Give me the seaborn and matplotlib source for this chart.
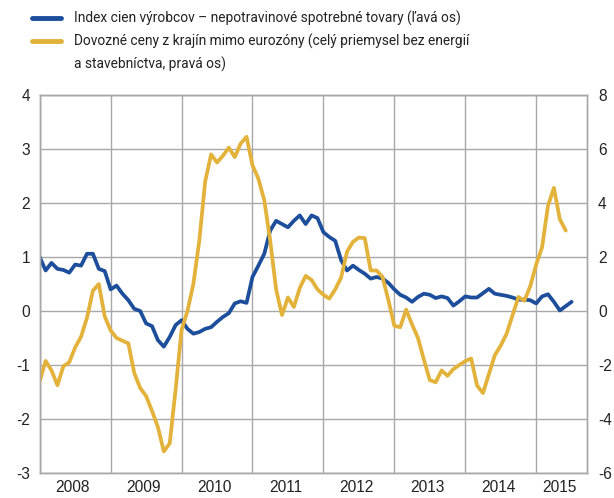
import matplotlib
matplotlib.use("Agg")
import matplotlib.pyplot as plt
from matplotlib.lines import Line2D
import seaborn as sns
import pandas as pd

# monthly data, Jan 2008 onwards
years = ["2008", "2009", "2010", "2011", "2012", "2013", "2014", "2015"]

ppi_nonfood = [
    1.00, 0.75, 0.89, 0.78, 0.76, 0.71, 0.86, 0.84, 1.06, 1.06, 0.78, 0.74,
    0.40, 0.47, 0.32, 0.20, 0.04, 0.00, -0.23, -0.28, -0.54, -0.66, -0.48, -0.26,
    -0.17, -0.33, -0.42, -0.39, -0.33, -0.30, -0.20, -0.11, -0.04, 0.14, 0.18, 0.15,
    0.63, 0.84, 1.06, 1.49, 1.67, 1.61, 1.55, 1.67, 1.77, 1.61, 1.77, 1.72,
    1.46, 1.37, 1.30, 0.94, 0.75, 0.84, 0.76, 0.69, 0.60, 0.63, 0.60, 0.52,
    0.40, 0.30, 0.25, 0.17, 0.26, 0.32, 0.30, 0.24, 0.27, 0.24, 0.10, 0.18,
    0.27, 0.25, 0.25, 0.33, 0.41, 0.32, 0.30, 0.28, 0.25, 0.21, 0.21, 0.20,
    0.14, 0.27, 0.31, 0.17, 0.01, 0.09, 0.17,
]

import_prices = [
    -2.60, -1.85, -2.20, -2.75, -2.05, -1.90, -1.35, -0.95, -0.25, 0.75, 1.00, -0.20,
    -0.72, -1.00, -1.10, -1.20, -2.30, -2.85, -3.15, -3.70, -4.30, -5.20, -4.90, -2.90,
    -0.70, 0.00, 1.00, 2.60, 4.80, 5.80, 5.50, 5.75, 6.05, 5.70, 6.20, 6.45,
    5.40, 4.90, 4.10, 2.60, 0.80, -0.15, 0.50, 0.15, 0.85, 1.30, 1.15, 0.80,
    0.60, 0.46, 0.80, 1.24, 2.20, 2.56, 2.72, 2.70, 1.50, 1.50, 1.26, 0.40,
    -0.55, -0.60, 0.05, -0.50, -1.00, -1.80, -2.56, -2.64, -2.20, -2.40, -2.15, -2.00,
    -1.86, -1.76, -2.76, -3.04, -2.34, -1.64, -1.28, -0.84, -0.16, 0.52, 0.38, 0.92,
    1.72, 2.36, 3.90, 4.56, 3.40, 2.98,
]

label_ppi = "Index cien výrobcov – nepotravinové spotrebné tovary (ľavá os)"
label_imp = "Dovozné ceny z krajín mimo eurozóny (celý priemysel bez energií"
label_imp2 = "a stavebníctva, pravá os)"

BLUE = "#1d4e9b"
YELLOW = "#e2b23a"
GRID = "#a8a8a8"
TXT = "#222222"

sns.set_style("white")
plt.rcParams["font.family"] = ["Liberation Sans", "DejaVu Sans"]
plt.rcParams["axes.unicode_minus"] = False

df_ppi = pd.DataFrame({"month": range(len(ppi_nonfood)), "value": ppi_nonfood})
df_imp = pd.DataFrame({"month": range(len(import_prices)), "value": import_prices})

fig = plt.figure(figsize=(6.14, 4.98), dpi=100)
ax = fig.add_axes([39.7 / 614, 1 - 473 / 498, (587 - 39.7) / 614, (473 - 95) / 498])
ax2 = ax.twinx()

sns.lineplot(data=df_ppi, x="month", y="value", ax=ax, color=BLUE, linewidth=2.7, legend=False)
sns.lineplot(data=df_imp, x="month", y="value", ax=ax2, color=YELLOW, linewidth=2.7, legend=False)

x_end = 92.6
ax.set_xlim(0, x_end)
ax.set_ylim(-3, 4)
ax2.set_ylim(-6, 8)

ax.set_yticks(range(-3, 5))
ax2.set_yticks(range(-6, 9, 2))
ax.set_xticks(range(0, 85, 12))
ax.set_xticklabels([])
mids = [12 * k + 5.6 for k in range(len(years) - 1)] + [(84 + x_end) / 2 - 0.3]
ax.set_xticks(mids, minor=True)
ax.set_xticklabels(years, minor=True)

ax.set_xlabel("")
ax.set_ylabel("")
ax2.set_ylabel("")

ax.grid(True, which="major", color=GRID, linewidth=1)
for a in (ax, ax2):
    for s in a.spines.values():
        s.set_color(GRID)
        s.set_linewidth(1)

fs = 11.2
ax.tick_params(axis="y", length=0, pad=7, labelsize=fs, labelcolor=TXT)
ax2.tick_params(axis="y", length=0, pad=8, labelsize=fs, labelcolor=TXT)
ax.tick_params(axis="x", which="major", length=5, width=1, color=GRID, direction="out")
ax.tick_params(axis="x", which="minor", length=0, pad=5, labelsize=fs, labelcolor=TXT)

handles = [
    Line2D([], [], color=BLUE, linewidth=3.5),
    Line2D([], [], color=YELLOW, linewidth=3.5),
    Line2D([], [], color="none"),
]
leg = fig.legend(handles, [label_ppi, label_imp, label_imp2], loc="upper left",
                 bbox_to_anchor=(32 / 614, 1 - 11 / 498), frameon=False,
                 prop={"family": ["Roboto", "Liberation Sans"], "size": 9.9},
                 handlelength=2.1, handletextpad=0.95, labelspacing=0.55,
                 borderpad=0, borderaxespad=0)
for t in leg.get_texts():
    t.set_color(TXT)

fig.savefig("out.png", dpi=100)
